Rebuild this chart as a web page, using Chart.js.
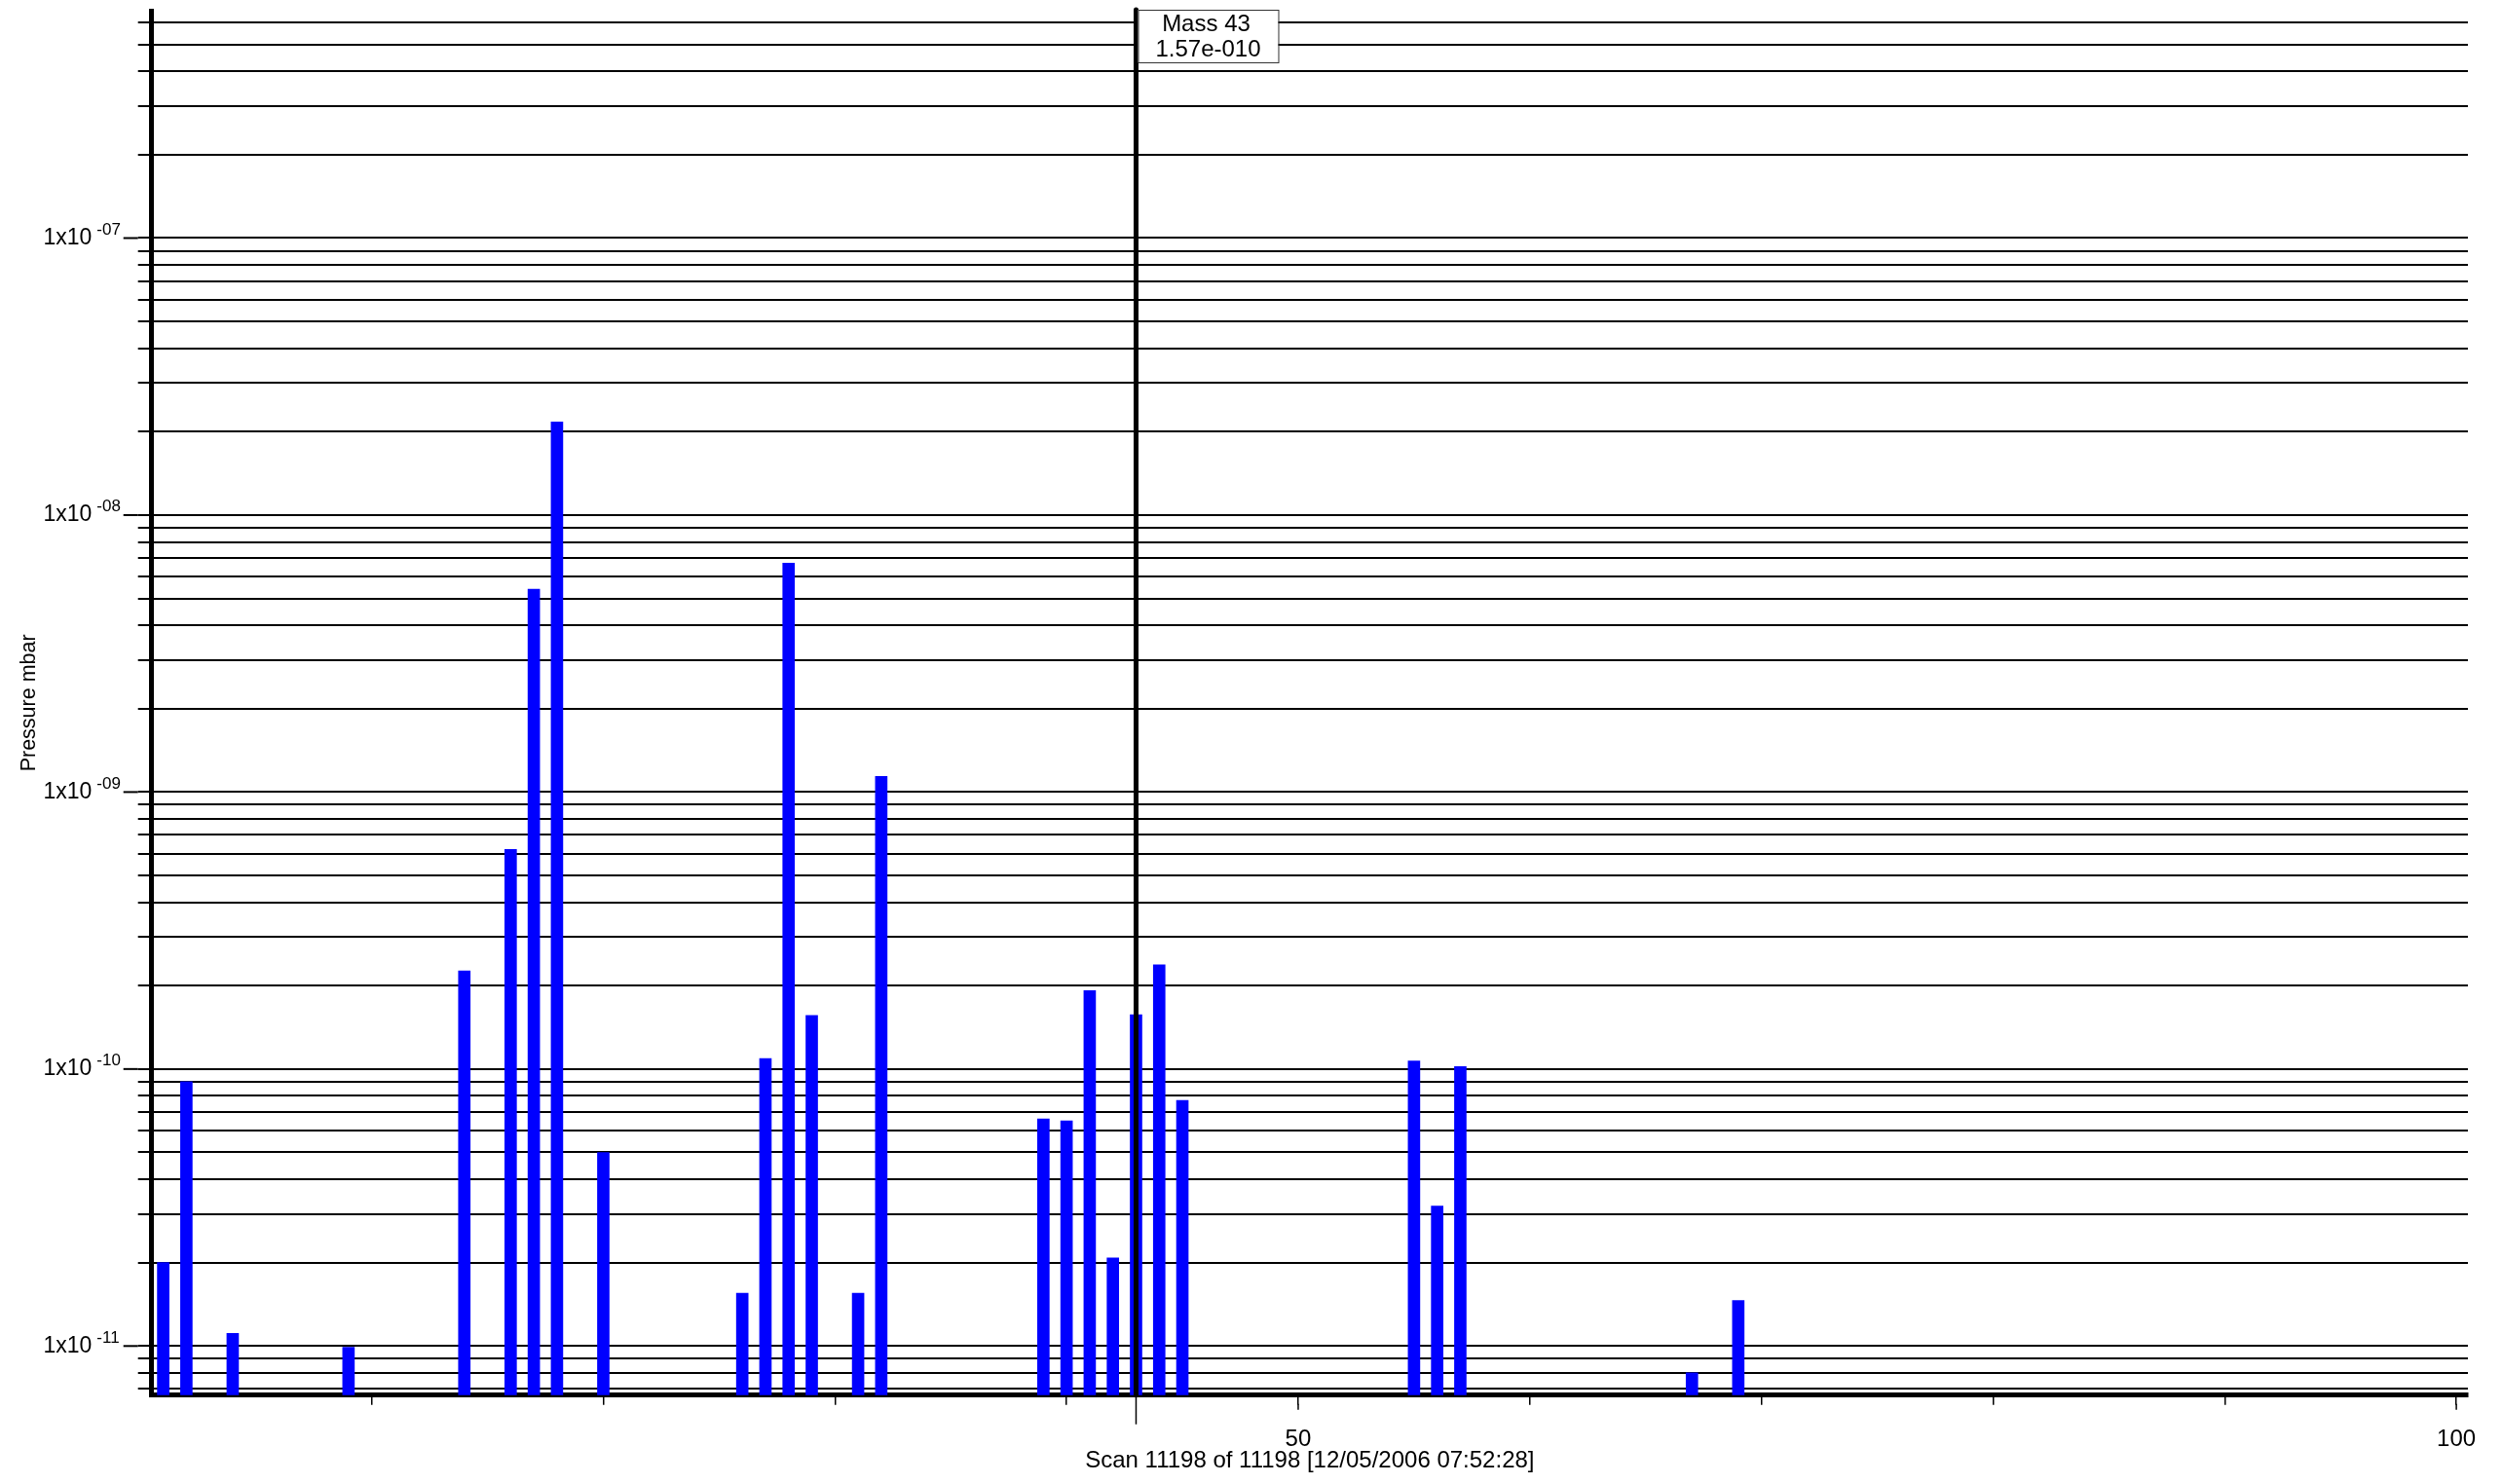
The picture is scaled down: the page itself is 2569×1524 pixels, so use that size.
<!DOCTYPE html>
<html>
<head>
<meta charset="utf-8">
<title>Mass spectrum scan</title>
<script src="https://cdn.jsdelivr.net/npm/chart.js@4.4.1/dist/chart.umd.min.js"></script>
<style>
  html, body { margin: 0; padding: 0; background: #ffffff; }
  canvas { display: block; }
</style>
</head>
<body>
<canvas id="spectrum" width="2569" height="1524"></canvas>
<script>
// Partial pressure per mass number (amu), mbar
const masses = [1, 2, 4, 9, 14, 16, 17, 18, 20, 26, 27, 28, 29, 31, 32,
                39, 40, 41, 42, 43, 44, 45, 55, 56, 57, 67, 69];
const pressures = [2.0e-11, 9.0e-11, 1.11e-11, 9.9e-12, 2.26e-10, 6.2e-10, 5.4e-9, 2.17e-8, 5.0e-11,
                   1.55e-11, 1.09e-10, 6.7e-9, 1.56e-10, 1.55e-11, 1.14e-9,
                   6.6e-11, 6.5e-11, 1.92e-10, 2.08e-11, 1.57e-10, 2.38e-10, 7.7e-11,
                   1.07e-10, 3.2e-11, 1.02e-10, 8.0e-12, 1.46e-11];

// Mass axis 1..100, tick marks every 10, labels on 50 and 100
const massAxis = Array.from({ length: 100 }, (_, i) => i + 1);
const xTickMarks = [10, 20, 30, 40, 50, 60, 70, 80, 90, 100];
const xTickLabels = [50, 100];

// Pressure axis: labelled decades
const decadeExponents = [-11, -10, -9, -8, -7];
const yMin = 6.65e-12;
const yMax = 6.62e-7;

// Cursor readout
const cursorMass = 43;

const xTitle = 'Scan 11198 of 11198 [12/05/2006 07:52:28]';
const yTitle = 'Pressure mbar';

// Gridline values: 1..9 x 10^n inside the axis range
const gridValues = [];
for (let e = -12; e <= -7; e++) {
  for (let k = 1; k <= 9; k++) {
    const v = k * Math.pow(10, e);
    if (v >= yMin && v <= yMax) gridValues.push(v);
  }
}

const isDecade = v => {
  const l = Math.log10(v);
  return Math.abs(l - Math.round(l)) < 1e-9;
};

const series = massAxis.map(m => {
  const i = masses.indexOf(m);
  return i >= 0 ? pressures[i] : null;
});

const formatReadout = v =>
  v.toExponential(2).replace(/e([+-])(\d+)/, (s, sign, d) => 'e' + sign + d.padStart(3, '0'));

const SANS = "'Liberation Sans', Arial, sans-serif";
Chart.defaults.font.family = SANS;
Chart.defaults.color = '#000';

const decorations = {
  id: 'decorations',
  afterDraw(chart) {
    const { ctx, chartArea, scales } = chart;
    const x = scales.x, y = scales.y;
    ctx.save();

    // longer marks and superscript exponents on the decades
    ctx.strokeStyle = '#000';
    ctx.lineWidth = 2;
    ctx.fillStyle = '#000';
    ctx.font = '17px ' + SANS;
    ctx.textAlign = 'left';
    ctx.textBaseline = 'alphabetic';
    decadeExponents.forEach(e => {
      const py = y.getPixelForValue(Math.pow(10, e));
      ctx.beginPath();
      ctx.moveTo(chartArea.left - 29, py);
      ctx.lineTo(chartArea.left - 14, py);
      ctx.stroke();
      const exp = (e < 0 ? '-' : '') + String(Math.abs(e)).padStart(2, '0');
      ctx.fillText(exp, chartArea.left - 56.4, py - 3.5);
    });

    // longer marks on the labelled mass ticks
    ctx.lineWidth = 1.5;
    xTickLabels.forEach(m => {
      const px = x.getPixelForValue(massAxis.indexOf(m));
      ctx.beginPath();
      ctx.moveTo(px, chartArea.bottom + 9);
      ctx.lineTo(px, chartArea.bottom + 15);
      ctx.stroke();
    });

    // cursor on the selected mass
    const ci = massAxis.indexOf(cursorMass);
    const cx = x.getPixelForValue(ci);
    ctx.lineCap = 'round';
    ctx.lineWidth = 5;
    ctx.beginPath();
    ctx.moveTo(cx, chartArea.top - 1);
    ctx.lineTo(cx, chartArea.bottom);
    ctx.stroke();
    ctx.lineCap = 'butt';
    ctx.lineWidth = 1.5;
    ctx.beginPath();
    ctx.moveTo(cx, chartArea.bottom);
    ctx.lineTo(cx, chartArea.bottom + 30);
    ctx.stroke();

    // readout box
    const bx = cx + 2, bw = 144, by = chartArea.top - 1, bh = 54;
    ctx.fillStyle = '#fff';
    ctx.fillRect(bx, by, bw, bh);
    ctx.strokeStyle = '#333';
    ctx.lineWidth = 1;
    ctx.strokeRect(bx + 0.5, by + 0.5, bw, bh);
    ctx.fillStyle = '#000';
    ctx.font = '24px ' + SANS;
    ctx.textAlign = 'center';
    ctx.textBaseline = 'middle';
    ctx.fillText('Mass ' + cursorMass, bx + bw / 2 - 2, by + 15);
    ctx.fillText(formatReadout(series[ci]), bx + bw / 2, by + 41);

    ctx.restore();
  }
};

new Chart(document.getElementById('spectrum'), {
  type: 'bar',
  data: {
    labels: massAxis.map(String),
    datasets: [{
      data: series,
      backgroundColor: '#0000ff',
      borderWidth: 0,
      barThickness: 12
    }]
  },
  options: {
    responsive: false,
    animation: false,
    devicePixelRatio: 1,
    layout: { padding: { top: 11, right: 35, bottom: 0, left: 0 } },
    plugins: {
      legend: { display: false },
      tooltip: { enabled: false }
    },
    scales: {
      x: {
        type: 'category',
        offset: true,
        z: 1,
        grid: {
          display: true,
          drawOnChartArea: false,
          drawTicks: true,
          tickLength: 10,
          offset: false,
          lineWidth: 1.5,
          color: c => xTickMarks.includes(massAxis[c.index]) ? '#000' : 'rgba(0,0,0,0)'
        },
        border: { display: true, color: '#000', width: 5 },
        ticks: {
          autoSkip: false,
          maxRotation: 0,
          minRotation: 0,
          padding: 20.9,
          color: '#000',
          font: { family: SANS, size: 24 },
          callback: (v, i) => xTickLabels.includes(massAxis[i]) ? String(massAxis[i]) : ''
        },
        title: {
          display: true,
          text: xTitle,
          color: '#000',
          font: { family: SANS, size: 24 },
          padding: { top: 0, bottom: 9.6 }
        },
        afterFit: s => {
          s.height = 91.3;
          s.paddingLeft = 0; s.paddingRight = 0; s.paddingTop = 0; s.paddingBottom = 0;
        }
      },
      y: {
        type: 'logarithmic',
        min: yMin,
        max: yMax,
        z: 1,
        afterBuildTicks: s => { s.ticks = gridValues.map(v => ({ value: v })); },
        grid: { color: '#000', lineWidth: 2, drawTicks: true, tickLength: 14 },
        border: { display: true, color: '#000', width: 5 },
        ticks: {
          autoSkip: false,
          padding: 47.4,
          color: '#000',
          font: { family: SANS, size: 23 },
          callback: v => isDecade(v) ? '1x10' : ''
        },
        title: {
          display: true,
          text: yTitle,
          color: '#000',
          font: { family: SANS, size: 21.5 },
          padding: { top: 17.3, bottom: 0 }
        },
        afterFit: s => {
          s.width = 155.7;
          s.paddingLeft = 0; s.paddingRight = 0; s.paddingTop = 0; s.paddingBottom = 0;
        }
      }
    }
  },
  plugins: [decorations]
});
</script>
</body>
</html>
